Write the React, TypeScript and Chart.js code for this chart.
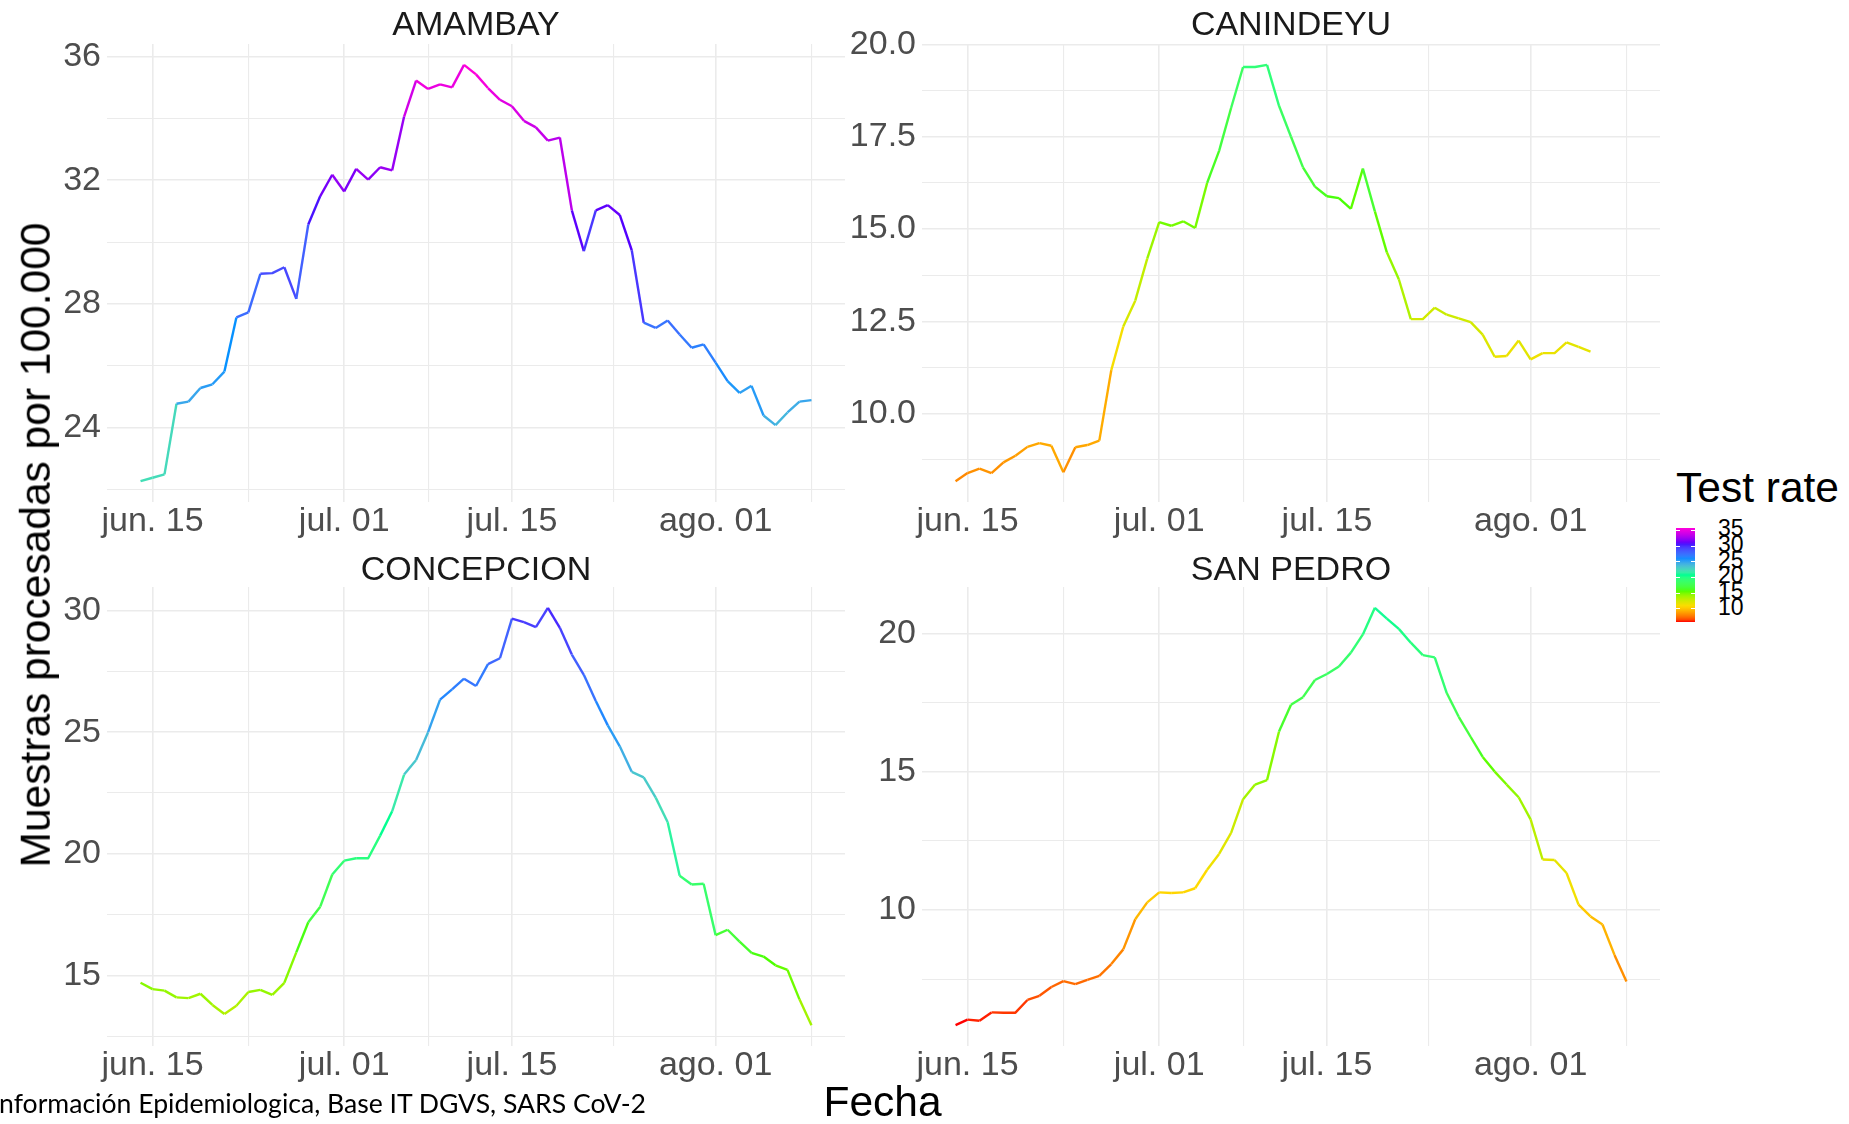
import React, { useEffect, useRef } from 'react';
import { Chart, registerables } from 'chart.js';

Chart.register(...registerables);

// ---------- data (first value = jun. 14, one value per day) ----------
const xTickDays = [1, 17, 31, 48];
const xTickLabels = ['jun. 15', 'jul. 01', 'jul. 15', 'ago. 01'];
const xMinorDays = [9, 24, 39.5, 56];

const amambay = [
  22.28, 22.39, 22.5, 24.78, 24.85, 25.29, 25.41, 25.82, 27.57, 27.73,
  28.98, 29.0, 29.19, 28.17, 30.57, 31.49, 32.18, 31.64, 32.37, 32.02,
  32.42, 32.32, 34.06, 35.22, 34.95, 35.1, 35.0, 35.73, 35.42, 34.98,
  34.6, 34.39, 33.92, 33.71, 33.28, 33.38, 31.03, 29.71, 31.03, 31.2,
  30.88, 29.74, 27.4, 27.23, 27.47, 27.02, 26.59, 26.7, 26.11, 25.51,
  25.13, 25.36, 24.4, 24.09, 24.5, 24.85, 24.9,
];
const canindeyu = [
  8.17, 8.39, 8.51, 8.39, 8.68, 8.86, 9.1, 9.2, 9.13, 8.41,
  9.09, 9.15, 9.27, 11.18, 12.36, 13.06, 14.2, 15.19, 15.09, 15.21,
  15.03, 16.25, 17.12, 18.28, 19.39, 19.39, 19.45, 18.34, 17.5, 16.67,
  16.15, 15.89, 15.84, 15.55, 16.64, 15.48, 14.37, 13.64, 12.56, 12.56,
  12.87, 12.68, 12.58, 12.48, 12.14, 11.54, 11.56, 11.98, 11.47, 11.64,
  11.64, 11.93, 11.81, 11.68,
];
const concepcion = [
  14.7, 14.44, 14.38, 14.1, 14.07, 14.25, 13.79, 13.42, 13.76, 14.32,
  14.41, 14.2, 14.7, 15.95, 17.19, 17.83, 19.15, 19.72, 19.82, 19.82,
  20.75, 21.75, 23.26, 23.86, 25.0, 26.34, 26.76, 27.2, 26.9, 27.8,
  28.04, 29.67, 29.52, 29.32, 30.11, 29.29, 28.19, 27.36, 26.28, 25.28,
  24.42, 23.37, 23.14, 22.31, 21.3, 19.1, 18.74, 18.77, 16.66, 16.88,
  16.39, 15.93, 15.78, 15.42, 15.23, 14.02, 12.96,
];
const sanPedro = [
  5.84, 6.04, 6.0, 6.3, 6.29, 6.29, 6.75, 6.9, 7.22, 7.43,
  7.32, 7.48, 7.62, 8.05, 8.58, 9.67, 10.28, 10.64, 10.62, 10.64,
  10.79, 11.46, 12.03, 12.79, 14.01, 14.54, 14.7, 16.46, 17.43, 17.7,
  18.32, 18.54, 18.81, 19.31, 19.97, 20.93, 20.54, 20.17, 19.67, 19.22,
  19.14, 17.85, 16.99, 16.26, 15.54, 15.01, 14.54, 14.08, 13.28, 11.83,
  11.81, 11.34, 10.2, 9.77, 9.48, 8.38, 7.42,
];

const amambayMajor = [24, 28, 32, 36];
const amambayMinor = [22, 26, 30, 34];
const canindeyuMajor = [10, 12.5, 15, 17.5, 20];
const canindeyuMinor = [8.75, 11.25, 13.75, 16.25, 18.75];
const concepcionMajor = [15, 20, 25, 30];
const concepcionMinor = [12.5, 17.5, 22.5, 27.5];
const sanPedroMajor = [10, 15, 20];
const sanPedroMinor = [7.5, 12.5, 17.5];

const legendTicks = [10, 15, 20, 25, 30, 35];
const rainbow7 = ['#FF0000', '#FFDB00', '#49FF00', '#00FF92', '#0092FF', '#4900FF', '#FF00DB'];

// ---------- colour ramp (CIELAB interpolation, like ggplot's gradientn) ----------
const allValues = [...amambay, ...canindeyu, ...concepcion, ...sanPedro];
const cMin = Math.min(...allValues);
const cMax = Math.max(...allValues);

function toLin(c: number) {
  c /= 255;
  return c <= 0.04045 ? c / 12.92 : Math.pow((c + 0.055) / 1.055, 2.4);
}
function fromLin(c: number) {
  const v = c <= 0.0031308 ? 12.92 * c : 1.055 * Math.pow(c, 1 / 2.4) - 0.055;
  return Math.round(Math.max(0, Math.min(1, v)) * 255);
}
const Xn = 0.95047, Yn = 1.0, Zn = 1.08883;
function hexToLab(h: string) {
  const r = toLin(parseInt(h.slice(1, 3), 16));
  const g = toLin(parseInt(h.slice(3, 5), 16));
  const b = toLin(parseInt(h.slice(5, 7), 16));
  const X = 0.4124564 * r + 0.3575761 * g + 0.1804375 * b;
  const Y = 0.2126729 * r + 0.7151522 * g + 0.072175 * b;
  const Z = 0.0193339 * r + 0.119192 * g + 0.9503041 * b;
  const f = (t: number) => (t > 0.008856 ? Math.cbrt(t) : 7.787 * t + 16 / 116);
  const fx = f(X / Xn), fy = f(Y / Yn), fz = f(Z / Zn);
  return [116 * fy - 16, 500 * (fx - fy), 200 * (fy - fz)];
}
function labToRgb(L: number, a: number, bb: number) {
  const fy = (L + 16) / 116;
  const fx = a / 500 + fy;
  const fz = fy - bb / 200;
  const inv = (t: number) => (t * t * t > 0.008856 ? t * t * t : (t - 16 / 116) / 7.787);
  const X = inv(fx) * Xn, Y = inv(fy) * Yn, Z = inv(fz) * Zn;
  const r = 3.2404542 * X - 1.5371385 * Y - 0.4985314 * Z;
  const g = -0.969266 * X + 1.8760108 * Y + 0.041556 * Z;
  const b = 0.0556434 * X - 0.2040259 * Y + 1.0572252 * Z;
  return `rgb(${fromLin(r)},${fromLin(g)},${fromLin(b)})`;
}
const rampLab = rainbow7.map(hexToLab);
function colorFor(v: number) {
  const t = Math.max(0, Math.min(1, (v - cMin) / (cMax - cMin))) * (rampLab.length - 1);
  const i = Math.min(Math.floor(t), rampLab.length - 2);
  const f = t - i;
  const A = rampLab[i], B = rampLab[i + 1];
  return labToRgb(A[0] + (B[0] - A[0]) * f, A[1] + (B[1] - A[1]) * f, A[2] + (B[2] - A[2]) * f);
}

// ---------- layout ----------
const SANS = '"Liberation Sans", Arial, Helvetica, sans-serif';
const PAD_TOP = 30;
const X_AXIS_H = 50;
const PLOT_W = 738;
const nDays = Math.max(amambay.length, canindeyu.length, concepcion.length, sanPedro.length) - 1;
const xMin = -0.05 * nDays;
const xMax = nDays + 0.05 * nDays;

type PanelProps = {
  values: number[];
  major: number[];
  minor: number[];
  decimals: number;
  plotLeft: number;
  plotTop: number;
  plotH: number;
  yAxisW: number;
};

function Panel({ values, major, minor, decimals, plotLeft, plotTop, plotH, yAxisW }: PanelProps) {
  const ref = useRef<HTMLCanvasElement>(null);
  const width = yAxisW + PLOT_W;
  const height = PAD_TOP + plotH + X_AXIS_H;
  useEffect(() => {
    if (!ref.current) return;
    const lo = Math.min(...values);
    const hi = Math.max(...values);
    const ex = (hi - lo) * 0.05;
    const yTicks = [...major, ...minor].filter((v) => v >= lo - ex && v <= hi + ex).sort((a, b) => a - b);
    const xTicks = [...xTickDays, ...xMinorDays].sort((a, b) => a - b);
    const gridWidth = (isMajor: boolean) => (isMajor ? 1.6 : 1.1);
    const chart = new Chart(ref.current, {
      type: 'line',
      data: {
        datasets: [
          {
            data: values.map((v, i) => ({ x: i, y: v })),
            borderWidth: 2.4,
            pointRadius: 0,
            pointHoverRadius: 0,
            tension: 0,
            borderJoinStyle: 'round',
            borderColor: colorFor(values[0]),
            segment: {
              borderColor: (c: any) => colorFor(c.p0.parsed.y),
            },
          } as any,
        ],
      },
      options: {
        animation: false,
        responsive: false,
        maintainAspectRatio: false,
        events: [],
        layout: { padding: { top: PAD_TOP, left: 0, right: 0, bottom: 0 } },
        plugins: { legend: { display: false }, tooltip: { enabled: false }, title: { display: false } },
        scales: {
          x: {
            type: 'linear',
            min: xMin,
            max: xMax,
            afterBuildTicks: (s: any) => {
              s.ticks = xTicks.map((v) => ({ value: v }));
            },
            afterFit: (s: any) => {
              s.height = X_AXIS_H;
            },
            border: { display: false },
            grid: {
              drawTicks: false,
              color: '#EBEBEB',
              lineWidth: (ctx: any) => gridWidth(!!ctx.tick && xTickDays.includes(ctx.tick.value)),
            },
            ticks: {
              autoSkip: false,
              maxRotation: 0,
              minRotation: 0,
              padding: 3,
              color: '#4D4D4D',
              font: { family: SANS, size: 34, lineHeight: 1 },
              callback: (v: any) => {
                const k = xTickDays.indexOf(Number(v));
                return k >= 0 ? xTickLabels[k] : '';
              },
            },
          },
          y: {
            type: 'linear',
            min: lo - ex,
            max: hi + ex,
            afterBuildTicks: (s: any) => {
              s.ticks = yTicks.map((v) => ({ value: v }));
            },
            afterFit: (s: any) => {
              s.width = yAxisW;
            },
            border: { display: false },
            grid: {
              drawTicks: false,
              color: '#EBEBEB',
              lineWidth: (ctx: any) => gridWidth(!!ctx.tick && major.includes(ctx.tick.value)),
            },
            ticks: {
              autoSkip: false,
              padding: 6,
              color: '#4D4D4D',
              font: { family: SANS, size: 34, lineHeight: 1 },
              callback: (v: any) => (major.includes(Number(v)) ? Number(v).toFixed(decimals) : ''),
            },
          },
        },
      } as any,
    });
    return () => chart.destroy();
  }, []);
  return (
    <canvas
      ref={ref}
      width={width}
      height={height}
      style={{
        position: 'absolute',
        left: plotLeft - yAxisW,
        top: plotTop - PAD_TOP,
        width,
        height,
      }}
    />
  );
}

function Text({ x, baseline, size, children, align = 'center', color = '#000', family = SANS }: any) {
  const top = baseline - 0.8465 * size;
  const style: React.CSSProperties = {
    position: 'absolute',
    top,
    fontFamily: family,
    fontSize: size,
    lineHeight: `${size}px`,
    color,
    whiteSpace: 'nowrap',
  };
  if (align === 'center') {
    style.left = x;
    style.transform = 'translateX(-50%)';
  } else if (align === 'left') {
    style.left = x;
  } else {
    style.right = 1849 - x;
  }
  return <div style={style}>{children}</div>;
}

const LEFT_X = 107;
const RIGHT_X = 922;
const TOP_Y = 44;
const TOP_H = 458;
const BOT_Y = 587;
const BOT_H = 459;

// legend colourbar geometry
const CB_LEFT = 1676;
const CB_TOP = 528;
const CB_W = 19;
const CB_H = 94;

export default function App() {
  const cbY = (v: number) => CB_TOP + CB_H - ((v - cMin) / (cMax - cMin)) * CB_H;
  const stops: string[] = [];
  for (let i = 0; i <= 40; i++) {
    const v = cMin + ((cMax - cMin) * i) / 40;
    stops.push(`${colorFor(v)} ${(i / 40) * 100}%`);
  }
  return (
    <div
      style={{
        position: 'fixed',
        left: 0,
        top: 0,
        width: 1849,
        height: 1124,
        background: '#FFFFFF',
        overflow: 'hidden',
      }}
    >
      <Panel values={amambay} major={amambayMajor} minor={amambayMinor} decimals={0}
        plotLeft={LEFT_X} plotTop={TOP_Y} plotH={TOP_H} yAxisW={100} />
      <Panel values={canindeyu} major={canindeyuMajor} minor={canindeyuMinor} decimals={1}
        plotLeft={RIGHT_X} plotTop={TOP_Y} plotH={TOP_H} yAxisW={90} />
      <Panel values={concepcion} major={concepcionMajor} minor={concepcionMinor} decimals={0}
        plotLeft={LEFT_X} plotTop={BOT_Y} plotH={BOT_H} yAxisW={100} />
      <Panel values={sanPedro} major={sanPedroMajor} minor={sanPedroMinor} decimals={0}
        plotLeft={RIGHT_X} plotTop={BOT_Y} plotH={BOT_H} yAxisW={90} />

      <Text x={LEFT_X + PLOT_W / 2} baseline={34.6} size={34} color="#1A1A1A">AMAMBAY</Text>
      <Text x={RIGHT_X + PLOT_W / 2} baseline={34.6} size={34} color="#1A1A1A">CANINDEYU</Text>
      <Text x={LEFT_X + PLOT_W / 2} baseline={579.3} size={34} color="#1A1A1A">CONCEPCION</Text>
      <Text x={RIGHT_X + PLOT_W / 2} baseline={579.3} size={34} color="#1A1A1A">SAN PEDRO</Text>

      <Text x={882.5} baseline={1117} size={42.5}>Fecha</Text>

      <div
        style={{
          position: 'absolute',
          left: 36,
          top: 544.5,
          transform: 'translate(-50%, -50%) rotate(-90deg)',
          fontFamily: SANS,
          fontSize: 42.5,
          lineHeight: '42.5px',
          whiteSpace: 'nowrap',
          color: '#000',
        }}
      >
        Muestras procesadas por 100.000
      </div>

      <Text x={646} baseline={1113} size={26.6} align="right" color="#000" family='Lato, "Open Sans", sans-serif'>
        Información Epidemiologica, Base IT DGVS, SARS CoV-2
      </Text>

      <Text x={1676} baseline={502.7} size={42.5} align="left">Test rate</Text>
      <div
        style={{
          position: 'absolute',
          left: CB_LEFT,
          top: CB_TOP,
          width: CB_W,
          height: CB_H,
          background: `linear-gradient(to top, ${stops.join(', ')})`,
        }}
      />
      {legendTicks.map((t) => (
        <React.Fragment key={t}>
          <div style={{ position: 'absolute', left: CB_LEFT, top: cbY(t) - 0.5, width: 4, height: 1, background: '#FFFFFF' }} />
          <div style={{ position: 'absolute', left: CB_LEFT + CB_W - 4, top: cbY(t) - 0.5, width: 4, height: 1, background: '#FFFFFF' }} />
          <Text x={1718} baseline={cbY(t) - 2 + 0.358 * 23} size={23} align="left">{String(t)}</Text>
        </React.Fragment>
      ))}
    </div>
  );
}
